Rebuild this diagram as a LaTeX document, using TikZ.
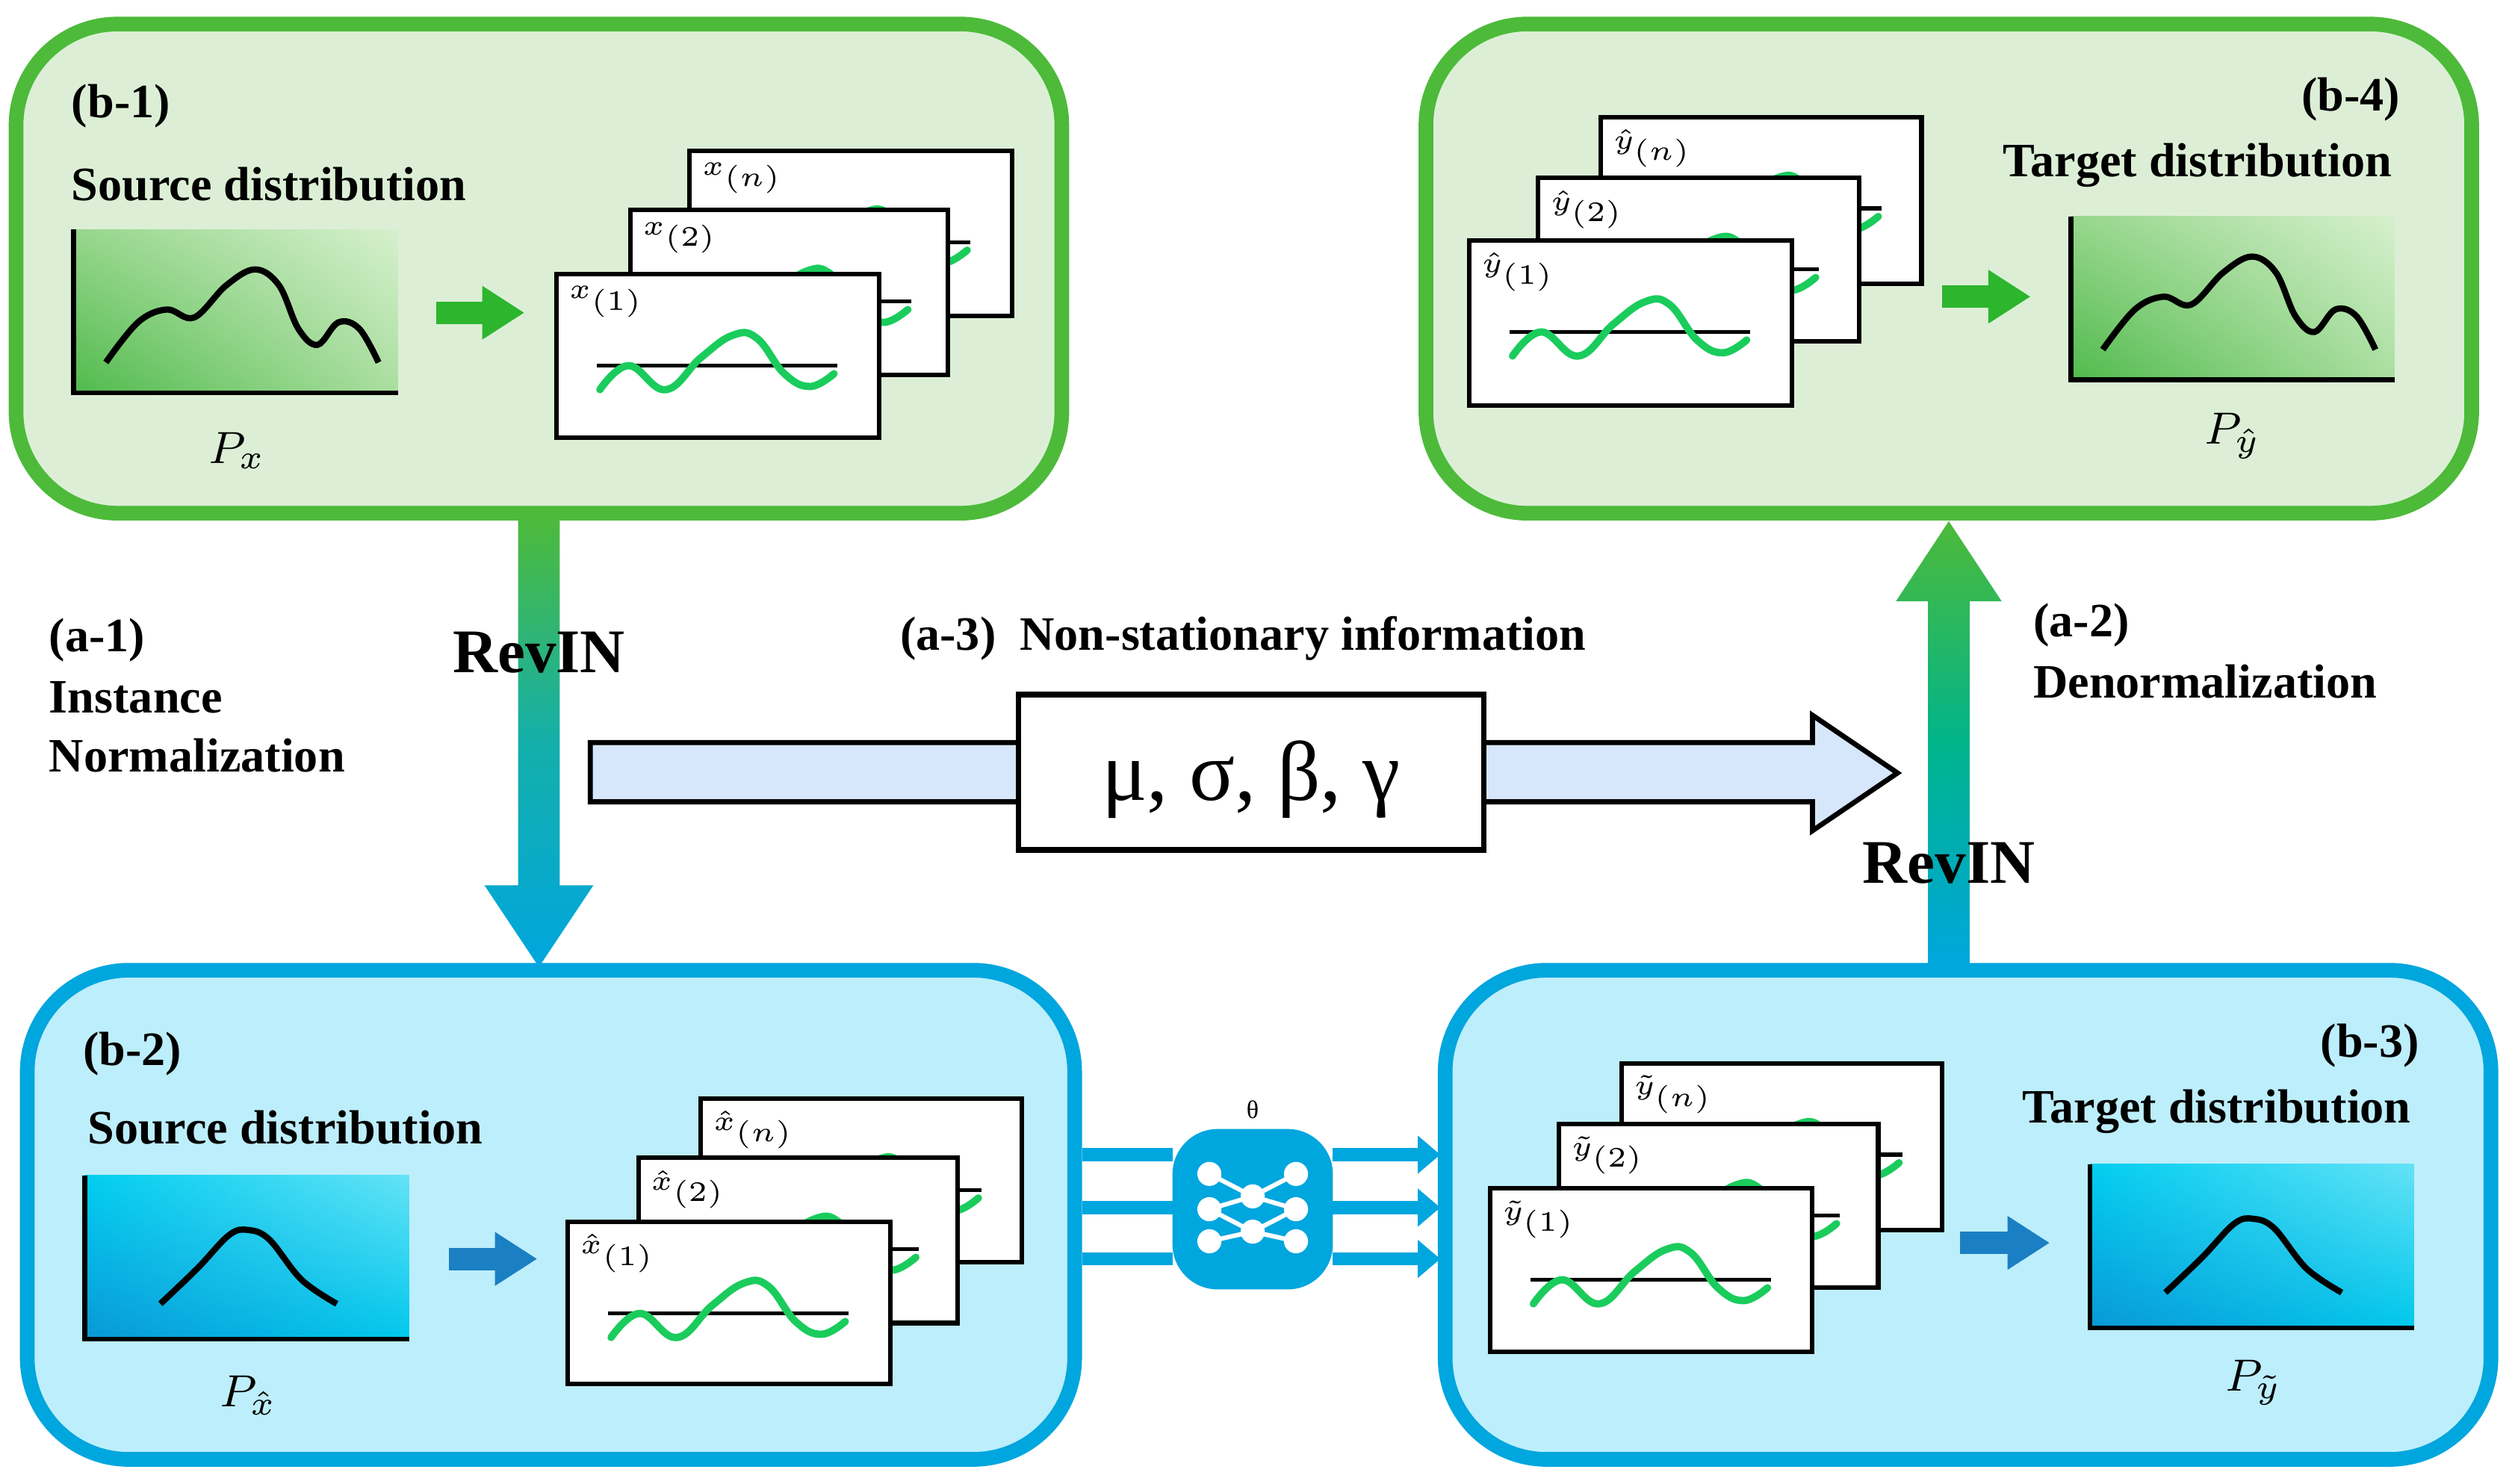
\documentclass[tikz,border=0pt]{standalone}
\usepackage{fontspec}
\setmainfont{Liberation Serif}
\usetikzlibrary{arrows.meta,shadings}
\definecolor{gbord}{HTML}{4DBA3A}
\definecolor{gfill}{HTML}{DCEFD6}
\definecolor{bbord}{HTML}{00A6DE}
\definecolor{bfill}{HTML}{BDEEFB}
\definecolor{wave}{HTML}{1ACC5C}
\definecolor{garr}{HTML}{2DB52D}
\definecolor{barr}{HTML}{1B7FC4}
\definecolor{hollow}{HTML}{D6E6FB}
\definecolor{netb}{HTML}{00A6DE}
\definecolor{gLL}{RGB}{80,186,76}
\definecolor{gUR}{RGB}{214,240,205}
\definecolor{gLR}{RGB}{170,222,160}
\definecolor{gUL}{RGB}{150,214,140}
\definecolor{bLL}{RGB}{10,152,214}
\definecolor{bUR}{RGB}{100,226,246}
\definecolor{bLR}{RGB}{0,200,236}
\definecolor{bUL}{RGB}{0,206,240}
\definecolor{midA}{RGB}{20,175,170}
\definecolor{midB}{RGB}{0,180,140}
\tikzset{
  panel/.style={rounded corners=18pt, line width=2.6pt},
  lab/.style={font=\bfseries\fontsize{8.5}{10}\selectfont, inner sep=0pt},
  sym/.style={font=\itshape\fontsize{8}{10}\selectfont, inner sep=0pt},
  cardlab/.style={font=\bfseries\fontsize{4.5}{5}\selectfont, inner sep=0pt, anchor=north west},
  wv/.style={wave, line width=1.3pt, line cap=round},
  fat/.style={line width=4pt, -{Triangle[length=7.5pt,width=9pt]}},
  thin/.style={netb, line width=2.3pt},
}
\newcommand{\mycard}[5]{% x y w h label
  \begin{scope}[shift={(#1,#2)}]
    \draw[fill=white, line width=0.8pt] (0,0) rectangle (#3,#4);
    \draw[line width=0.7pt] (25,57) -- (175,57);
    \draw[wv] plot[smooth, tension=0.7] coordinates {(27,72) (45,57) (68,72) (90,52) (110,38) (125,40) (142,62) (158,70) (173,62)};
    \node[cardlab] at (7,7) {#5};
  \end{scope}}
\newcommand{\greenchart}[2]{%
  \begin{scope}[shift={(#1,#2)}]
    \shade[lower left=gLL, upper right=gUR, lower right=gLR, upper left=gUL] (0,0) rectangle (202,102);
    \draw[line width=0.9pt] (0,0) -- (0,102) -- (202,102);
    \draw[line width=1.1pt] plot[smooth, tension=0.6] coordinates {(20,83) (40,58) (58,50) (75,55) (95,35) (113,25) (128,35) (140,62) (152,72) (165,58) (178,62) (190,83)};
  \end{scope}}
\newcommand{\bluechart}[2]{%
  \begin{scope}[shift={(#1,#2)}]
    \shade[lower left=bLL, upper right=bUR, lower right=bLR, upper left=bUL] (0,0) rectangle (202,102);
    \draw[line width=0.9pt] (0,0) -- (0,102) -- (202,102);
    \draw[line width=1.1pt] plot[smooth, tension=0.6] coordinates {(47,80) (70,58) (90,37) (102,34) (115,40) (135,65) (157,80)};
  \end{scope}}
\begin{document}
\begin{tikzpicture}[x=0.01cm, y=-0.01cm]
\useasboundingbox (0,0) rectangle (1568,925);
% panels
\draw[panel, draw=gbord, fill=gfill] (10,15) rectangle (662,320);
\draw[panel, draw=gbord, fill=gfill] (889,15) rectangle (1541,320);
\draw[panel, draw=bbord, fill=bfill] (17,605) rectangle (670,910);
\draw[panel, draw=bbord, fill=bfill] (901,605) rectangle (1553,910);
% b-1
\node[lab, anchor=west] (b1) at (44,66) {(b-1)};
\node[lab, anchor=west] (sd1) at (44,115) {Source distribution};
\greenchart{46}{143}
\node[sym] (px) at (148,281) {$P_{x}$};
\draw[fat, garr] (272,195) -- (327,195);
\mycard{430}{94}{201}{103}{$x_{(n)}$}
\mycard{393}{131}{198}{103}{$x_{(2)}$}
\mycard{347}{171}{201}{102}{$x_{(1)}$}
% b-4
\node[lab, anchor=east] (b4) at (1497,62) {(b-4)};
\node[lab] (td4) at (1370,103) {Target distribution};
\mycard{998}{73}{200}{104}{$\hat y_{(n)}$}
\mycard{959}{111}{200}{102}{$\hat y_{(2)}$}
\mycard{916}{150}{201}{103}{$\hat y_{(1)}$}
\draw[fat, garr] (1211,185) -- (1266,185);
\greenchart{1291}{135}
\node[sym] (py) at (1392,272) {$P_{\hat y}$};
% b-2
\node[lab, anchor=west] (b2) at (51,657) {(b-2)};
\node[lab, anchor=west] (sd2) at (54,703) {Source distribution};
\bluechart{53}{733}
\node[sym] (pxh) at (155,870) {$P_{\hat x}$};
\draw[fat, barr] (280,785) -- (335,785);
\mycard{437}{685}{200}{102}{$\hat x_{(n)}$}
\mycard{398}{722}{199}{103}{$\hat x_{(2)}$}
\mycard{354}{762}{201}{101}{$\hat x_{(1)}$}
% b-3
\node[lab, anchor=east] (b3) at (1509,652) {(b-3)};
\node[lab] (td3) at (1382,693) {Target distribution};
\mycard{1011}{663}{200}{104}{$\tilde y_{(n)}$}
\mycard{972}{701}{199}{102}{$\tilde y_{(2)}$}
\mycard{929}{741}{201}{102}{$\tilde y_{(1)}$}
\draw[fat, barr] (1222,775) -- (1278,775);
\bluechart{1303}{726}
\node[sym] (pyt) at (1405,862) {$P_{\tilde y}$};
% RevIN arrows
\shade[top color=gbord, bottom color=bbord, middle color=midA]
  (323,322) -- (349,322) -- (349,552) -- (370,552) -- (336,603) -- (302,552) -- (323,552) -- cycle;
\shade[bottom color=bbord, top color=gbord, middle color=midB]
  (1202,605) -- (1228,605) -- (1228,375) -- (1248,375) -- (1215,325) -- (1182,375) -- (1202,375) -- cycle;
\node[lab, font=\bfseries\fontsize{11}{12}\selectfont] (rev1) at (336,407) {RevIN};
\node[lab, font=\bfseries\fontsize{11}{12}\selectfont] (rev2) at (1215,538) {RevIN};
% side labels
\node[lab, anchor=west] (a1) at (30,399) {(a-1)};
\node[lab, anchor=west] (a1b) at (30,435) {Instance};
\node[lab, anchor=west] (a1c) at (30,471) {Normalization};
\node[lab, anchor=west] (a2) at (1267,390) {(a-2)};
\node[lab, anchor=west] (a2b) at (1267,425) {Denormalization};
\node[lab] (a3) at (775,398) {(a-3)\ \ Non-stationary information};
% hollow arrow
\draw[fill=hollow, line width=0.9pt] (368,463) -- (1130,463) -- (1130,446) -- (1183,482) -- (1130,518) -- (1130,500) -- (368,500) -- cycle;
\draw[fill=white, line width=1pt] (635,433) rectangle (925,530);
\node[font=\fontsize{15}{16}\selectfont, inner sep=0pt] (mu) at (780,486) {μ, σ, β, γ};
% network
\foreach \yy in {720,753,785} {
  \draw[thin] (675,\yy) -- (731,\yy);
  \draw[thin, -{Triangle[length=4pt,width=6.5pt]}] (831,\yy) -- (898,\yy);
}
\fill[netb, rounded corners=8pt] (731,704) rectangle (831,804);
\begin{scope}[shift={(781,754)}]
  \draw[white, line width=0.8pt] (-27,-22) -- (0,-8) -- (27,-22);
  \draw[white, line width=0.8pt] (-27,0) -- (0,-8) -- (27,0);
  \draw[white, line width=0.8pt] (-27,0) -- (0,14) -- (27,0);
  \draw[white, line width=0.8pt] (-27,20) -- (0,14) -- (27,20);
  \foreach \p in {(-27,-22),(27,-22),(0,-8),(-27,0),(27,0),(0,14),(-27,20),(27,20)}
    \fill[white] \p circle (7.5);
\end{scope}
\node[font=\fontsize{4.5}{5}\selectfont, inner sep=0pt] (theta) at (781,692) {θ};
\end{tikzpicture}
\end{document}
